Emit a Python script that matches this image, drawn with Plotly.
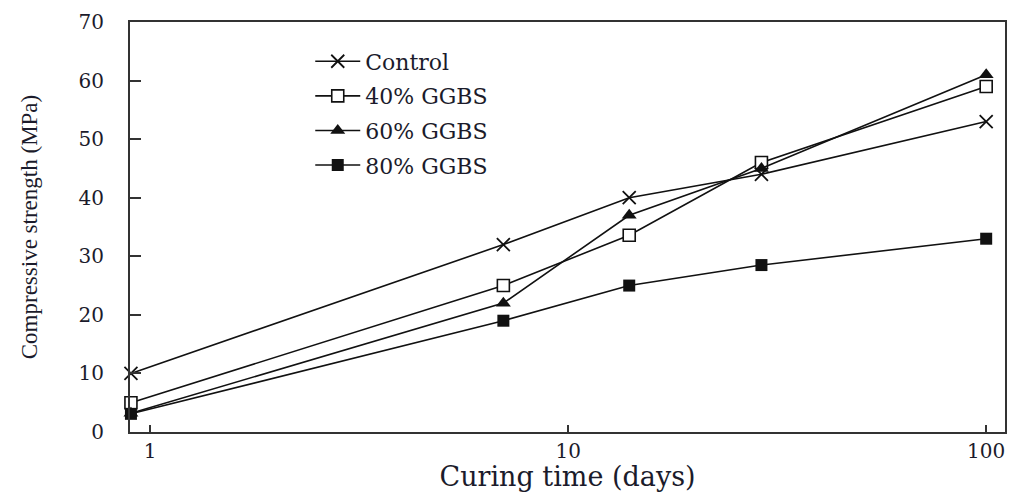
import plotly.graph_objects as go

# Data
days = [0.9, 7, 14, 29, 100]
control = [10, 32, 40, 44, 53]
ggbs40 = [5, 25, 33.6, 46, 59]
ggbs60 = [3.2, 22, 37, 45, 61]
ggbs80 = [3.1, 19, 25, 28.5, 33]

series_names = ["Control", "40% GGBS", "60% GGBS", "80% GGBS"]
x_ticks = [1, 10, 100]
x_tick_labels = ["1", "10", "100"]
y_ticks = [0, 10, 20, 30, 40, 50, 60, 70]

serif = "DejaVu Serif"
ink = "#111111"

fig = go.Figure()

styles = [
    (control, dict(symbol="x-thin-open", size=13, color=ink, line=dict(width=1.8, color=ink))),
    (ggbs40, dict(symbol="square", size=12, color="white", line=dict(width=1.6, color=ink))),
    (ggbs60, dict(symbol="triangle-up", size=13, color=ink, line=dict(width=0, color=ink))),
    (ggbs80, dict(symbol="square", size=12, color=ink, line=dict(width=0, color=ink))),
]

for i, (name, (vals, mk)) in enumerate(zip(series_names, styles)):
    fig.add_trace(go.Scatter(
        x=days, y=vals, name=name, mode="lines+markers",
        line=dict(color=ink, width=1.6),
        marker=mk, cliponaxis=False, legendgroup=f"g{i}",
    ))

fig.update_layout(
    width=1011, height=492,
    margin=dict(l=130, r=6, t=22, b=60),
    paper_bgcolor="white", plot_bgcolor="white",
    font=dict(family=serif, size=20, color="#1b1b2b"),
    showlegend=True,
    legend=dict(
        x=0.206, y=0.955, xanchor="left", yanchor="top",
        bgcolor="rgba(0,0,0,0)", borderwidth=0,
        font=dict(family=serif, size=22, color="#1b1b2b"),
        tracegroupgap=3, itemwidth=45,
    ),
)

fig.update_xaxes(
    type="log", range=[-0.048, 2.045], automargin=False,
    tickvals=x_ticks, ticktext=x_tick_labels,
    ticks="inside", ticklen=7, tickwidth=1.5, tickcolor="#333",
    showline=True, linecolor="#333", linewidth=2, mirror=True,
    showgrid=False, zeroline=False,
    tickfont=dict(family=serif, size=20),
    title=dict(text="Curing time (days)", font=dict(family=serif, size=27), standoff=23),
)
fig.update_yaxes(
    range=[0, 70], tickvals=y_ticks, automargin=False,
    ticks="inside", ticklen=11, tickwidth=1.5, tickcolor="#333",
    showline=True, linecolor="#333", linewidth=2, mirror=True,
    showgrid=False, zeroline=False,
    tickfont=dict(family=serif, size=20),
    ticklabelstandoff=20,
    title=dict(text="Compressive strength (MPa)",
               font=dict(family="Liberation Serif", size=23), standoff=34),
)

fig.write_html("out.html")
